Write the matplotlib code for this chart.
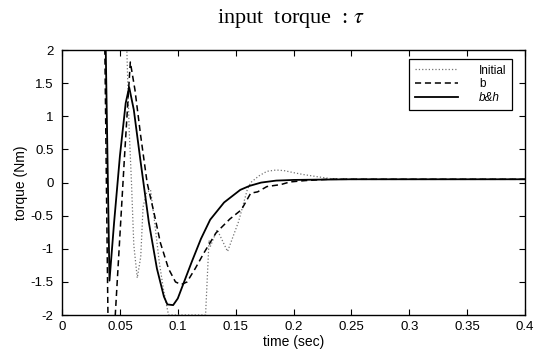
import numpy as np
import matplotlib.pyplot as plt
from matplotlib.ticker import FormatStrFormatter, MultipleLocator

plt.rcParams['font.family'] = 'Liberation Sans'
plt.rcParams['axes.unicode_minus'] = False
plt.rcParams['mathtext.fontset'] = 'stix'

# Initial controller (saturates at +/-2 Nm)
t_init = [0.0, 0.056, 0.058, 0.060, 0.062, 0.065, 0.068, 0.070, 0.073, 0.0765,
          0.080, 0.084, 0.0877, 0.092, 0.124, 0.127, 0.128, 0.134, 0.143,
          0.1525, 0.160, 0.163, 0.170, 0.177, 0.185, 0.192, 0.200, 0.209,
          0.220, 0.232, 0.250, 0.300, 0.400]
tau_init = [2.0, 2.0, 0.8, 0.0, -0.94, -1.44, -1.12, -0.37, -0.15, -0.11,
            -0.6, -1.2, -1.62, -2.0, -2.0, -0.87, -0.97, -0.71, -1.04,
            -0.59, -0.11, 0.0, 0.1, 0.17, 0.19, 0.18, 0.15, 0.12,
            0.09, 0.06, 0.05, 0.05, 0.05]

# b
t_b = [0.0, 0.035, 0.040, 0.045, 0.046, 0.050, 0.054, 0.059, 0.063, 0.068,
       0.0735, 0.080, 0.085, 0.092, 0.098, 0.103, 0.108, 0.115, 0.123, 0.133,
       0.145, 0.155, 0.163, 0.169, 0.177, 0.189, 0.197, 0.210, 0.230, 0.400]
tau_b = [5.0, 5.0, -2.5, -2.5, -2.0, -0.8, 0.4, 1.82, 1.4, 0.7,
         0.0, -0.5, -0.91, -1.3, -1.5, -1.54, -1.5, -1.3, -1.05, -0.76,
         -0.55, -0.41, -0.16, -0.14, -0.06, -0.03, 0.01, 0.03, 0.05, 0.05]

# b&h
t_bh = [0.0, 0.035, 0.041, 0.045, 0.050, 0.055, 0.058, 0.062, 0.068, 0.075,
        0.082, 0.088, 0.091, 0.096, 0.100, 0.105, 0.112, 0.120, 0.128, 0.140,
        0.154, 0.162, 0.172, 0.185, 0.200, 0.250, 0.400]
tau_bh = [5.0, 5.0, -1.48, -0.6, 0.4, 1.2, 1.44, 1.1, 0.3, -0.6,
          -1.3, -1.72, -1.84, -1.85, -1.75, -1.52, -1.2, -0.85, -0.56, -0.3,
          -0.11, -0.05, 0.0, 0.03, 0.04, 0.05, 0.05]

fig = plt.figure(figsize=(5.46, 3.58), dpi=100)
ax = fig.add_axes([0.1136, 0.12, 0.848, 0.74])

ax.plot(t_init, tau_init, ':', color='0.45', linewidth=0.9, label='Initial')
ax.plot(t_b, tau_b, '--', color='black', linewidth=1.1, dashes=(4, 2.5), label='b')
ax.plot(t_bh, tau_bh, '-', color='black', linewidth=1.3, label='b&h')

ax.set_xlim(0, 0.4)
ax.set_ylim(-2, 2)
ax.xaxis.set_major_locator(MultipleLocator(0.05))
ax.yaxis.set_major_locator(MultipleLocator(0.5))
ax.xaxis.set_major_formatter(FormatStrFormatter('%g'))
ax.yaxis.set_major_formatter(FormatStrFormatter('%g'))
ax.tick_params(direction='in', top=True, right=True, length=4, width=0.8,
               labelsize=9.5)
ax.tick_params(axis='y', pad=6)
ax.tick_params(axis='x', pad=4)
for s in ax.spines.values():
    s.set_linewidth(1.0)

ax.set_xlabel('time (sec)', fontsize=10, labelpad=2)
ax.set_ylabel('torque (Nm)', fontsize=10, labelpad=2)
fig.suptitle('input  torque  : $\\tau$', family='Liberation Serif',
             fontsize=16, x=0.533, y=0.98)

leg = ax.legend(loc='upper right', bbox_to_anchor=(0.985, 0.99), fontsize=8.5,
                fancybox=False, framealpha=1, edgecolor='black',
                handlelength=3.6, handletextpad=1.8, borderpad=0.5,
                labelspacing=0.15)
leg.get_frame().set_linewidth(0.9)
leg.get_texts()[2].set_style('italic')

fig.savefig('out.png', dpi=100)
